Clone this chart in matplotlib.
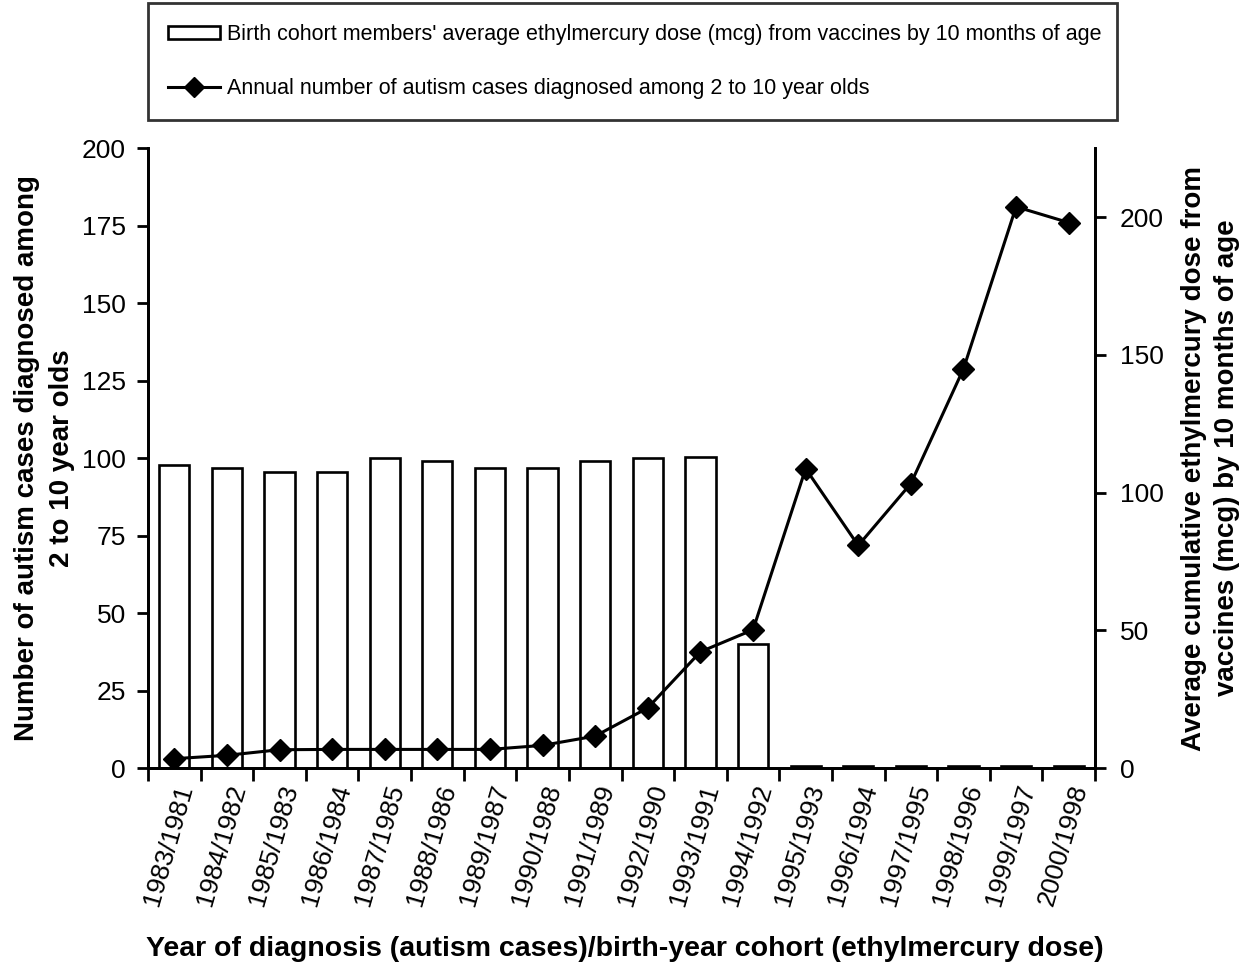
import matplotlib
matplotlib.use("Agg")
import matplotlib.pyplot as plt
from matplotlib.patches import Patch
from matplotlib.lines import Line2D

plt.rcParams['font.family'] = ['Liberation Sans', 'DejaVu Sans']

categories = ["1983/1981", "1984/1982", "1985/1983", "1986/1984", "1987/1985",
              "1988/1986", "1989/1987", "1990/1988", "1991/1989", "1992/1990",
              "1993/1991", "1994/1992", "1995/1993", "1996/1994", "1997/1995",
              "1998/1996", "1999/1997", "2000/1998"]
# Birth cohort average ethylmercury dose (mcg) - right axis
dose = [109.9, 108.8, 107.5, 107.5, 112.6, 111.5, 109.0, 109.0, 111.5, 112.6,
        112.8, 45.1, 0.6, 0.6, 0.6, 0.6, 0.6, 0.6]
# Annual number of autism cases among 2-10 year olds - left axis
cases = [3.0, 4.1, 5.9, 6.0, 6.0, 6.0, 6.0, 7.3, 10.3, 19.4, 37.5, 44.6,
         96.6, 71.8, 91.8, 128.8, 181.1, 176.0]

left_ticks = [0, 25, 50, 75, 100, 125, 150, 175, 200]
right_ticks = [0, 50, 100, 150, 200]

label_dose = "Birth cohort members' average ethylmercury dose (mcg) from vaccines by 10 months of age"
label_cases = "Annual number of autism cases diagnosed among 2 to 10 year olds"

fig = plt.figure(figsize=(12.5, 9.75), dpi=100)
ax = fig.add_axes([0.1184, 0.2123, 0.876 - 0.1184, 0.848 - 0.2123])
ax2 = ax.twinx()

x = list(range(len(categories)))
LW = 2.0

ax2.bar(x, dose, width=0.575, facecolor='white', edgecolor='black', linewidth=1.9)
ax.plot(x, cases, color='black', linewidth=2.2, marker='D', markersize=11,
        markerfacecolor='black', markeredgecolor='black')

ax.set_zorder(ax2.get_zorder() + 1)
ax.patch.set_visible(False)

ax.set_xlim(-0.5, len(categories) - 0.5)
ax.set_ylim(0, 200)
ax2.set_ylim(0, 225)

ax.set_yticks(left_ticks)
ax2.set_yticks(right_ticks)

for a in (ax, ax2):
    a.spines['top'].set_visible(False)
    for s in ('left', 'right', 'bottom'):
        a.spines[s].set_linewidth(LW)

ax.tick_params(axis='y', direction='out', length=8, width=LW, labelsize=19, pad=8)
ax2.tick_params(axis='y', direction='out', length=8, width=LW, labelsize=19, pad=10)

# x ticks: marks at boundaries, labels at centres
ax.set_xticks([i - 0.5 for i in range(len(categories) + 1)])
ax.set_xticklabels([])
ax.set_xticks(x, minor=True)
ax.set_xticklabels(categories, minor=True, rotation=74, ha='right', va='top',
                   rotation_mode='anchor', fontsize=19)
ax.tick_params(axis='x', which='major', direction='out', length=9, width=LW)
ax.tick_params(axis='x', which='minor', length=0, pad=10)
ax2.tick_params(axis='x', which='both', length=0)

ax.set_ylabel("Number of autism cases diagnosed among\n2 to 10 year olds",
              fontsize=20, fontweight='bold', labelpad=5, linespacing=1.45)
ax2.set_ylabel("Average cumulative ethylmercury dose from\nvaccines (mcg) by 10 months of age",
               fontsize=20, fontweight='bold', rotation=90, labelpad=12, linespacing=1.35)
fig.text(0.5, 0.027, "Year of diagnosis (autism cases)/birth-year cohort (ethylmercury dose)",
         ha='center', va='center', fontsize=20.5, fontweight='bold')

handles = [Patch(facecolor='white', edgecolor='black', linewidth=1.9),
           Line2D([], [], color='black', linewidth=2.2, marker='D', markersize=10)]
leg = fig.legend(handles, [label_dose, label_cases], loc='upper left',
                 bbox_to_anchor=(0.1184, 0.9965, 0.775, 0.0), mode='expand',
                 borderaxespad=0, frameon=True, fancybox=False, fontsize=15.5,
                 labelspacing=1.55, handlelength=2.4, handleheight=0.55,
                 handletextpad=0.3, borderpad=0.95, numpoints=1)
leg.get_frame().set_edgecolor('black')
leg.get_frame().set_linewidth(LW)

fig.savefig("out.png", dpi=100)
